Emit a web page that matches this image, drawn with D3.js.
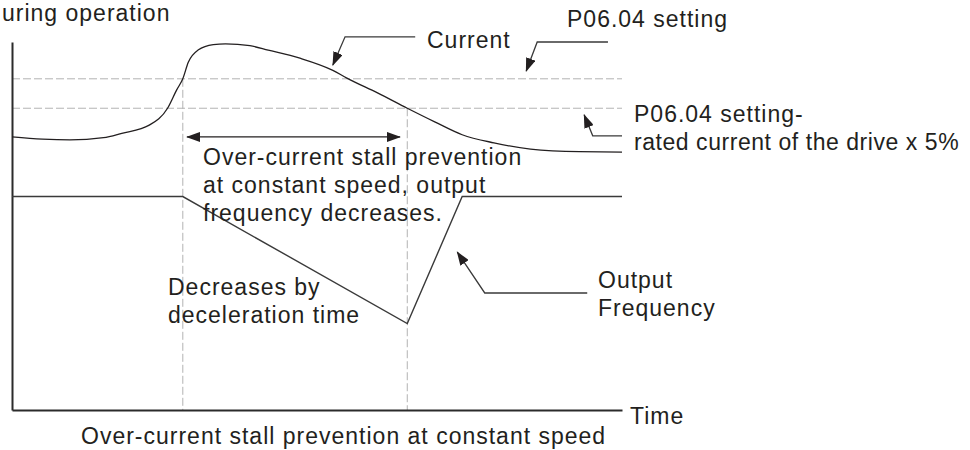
<!DOCTYPE html>
<html>
<head>
<meta charset="utf-8">
<script src="https://cdn.jsdelivr.net/npm/d3@7"></script>
<style>
  body { margin: 0; background: #fff; }
  svg text { font-family: "Liberation Sans", Arial, sans-serif; font-size: 23px; letter-spacing: 1px; fill: #231f20; }
</style>
</head>
<body>
<div id="chart"></div>
<script>
// time in s (0..10), level in % of full scale (0..100)
const currentPts = [
  [0, 74.2], [0.5, 73.6], [0.95, 73.4], [1.5, 74], [1.8, 75.2], [2.25, 77.4], [2.55, 82],
  [2.7, 87], [2.8, 90], [2.89, 94.5], [3.05, 97.8], [3.3, 99.3], [3.5, 99.5], [3.9, 99],
  [4.2, 97.8], [4.72, 95.6], [5.26, 92.3], [5.49, 90.2], [6.0, 86.1], [6.48, 82], [6.93, 78.3],
  [7.38, 74.8], [7.9, 72.6], [8.5, 70.9], [9.3, 70.2], [10, 70.1]
];
const freqPts = [[0, 58], [2.8, 58], [6.48, 23.5], [7.38, 58], [10, 58]];
const levels = [90, 82];            // P06.04 setting, setting - 5%
const markTimes = [[2.8, 90], [6.48, 82]];   // stall start / end
const spanArrow = {t0: 2.87, t1: 6.36, v: 74.2};

// leader lines: [start, corner, tip]
const leaders = [
  [[6.61, 101.4], [5.46, 101.4], [5.26, 93.75]],
  [[9.77, 100], [8.61, 100], [8.43, 92.1]],
  [[10, 74.5], [9.52, 74.5], [9.38, 80.2]],
  [[9.43, 31.8], [7.75, 31.8], [7.30, 42.9]]
];

const labels = [
  {text: "uring operation", x: 2, y: 21},
  {text: "Current", x: 427, y: 48},
  {text: "P06.04 setting", x: 567, y: 27},
  {text: "P06.04 setting-", x: 634, y: 122},
  {text: "rated current of the drive x 5%", x: 634, y: 150, ls: 0.55},
  {text: "Over-current stall prevention", x: 203, y: 165},
  {text: "at constant speed, output", x: 203, y: 193},
  {text: "frequency decreases.", x: 203, y: 221},
  {text: "Decreases by", x: 168, y: 295},
  {text: "deceleration time", x: 168, y: 323},
  {text: "Output", x: 598, y: 288},
  {text: "Frequency", x: 598, y: 316},
  {text: "Time", x: 630, y: 424},
  {text: "Over-current stall prevention at constant speed", x: 81, y: 444}
];

const W = 970, H = 450;
const x = d3.scaleLinear().domain([0, 10]).range([12, 622]);
const y = d3.scaleLinear().domain([0, 100]).range([410, 42]);

const svg = d3.select("#chart").append("svg")
    .attr("width", W).attr("height", H);

const defs = svg.append("defs");
defs.append("marker")
    .attr("id", "head")
    .attr("markerUnits", "userSpaceOnUse")
    .attr("viewBox", "0 0 14 10")
    .attr("refX", 13).attr("refY", 5)
    .attr("markerWidth", 14).attr("markerHeight", 10)
    .attr("orient", "auto-start-reverse")
  .append("path")
    .attr("d", "M0,0 L14,5 L0,10 Z")
    .attr("fill", "#231f20");

const ink = "#231f20";

// dashed guide lines
svg.selectAll(".level").data(levels).enter().append("line")
    .attr("x1", x(0)).attr("x2", x(10))
    .attr("y1", d => y(d)).attr("y2", d => y(d))
    .attr("stroke", "#b3b3b3").attr("stroke-width", 1)
    .attr("stroke-dasharray", "8,3");

svg.selectAll(".vmark").data(markTimes).enter().append("line")
    .attr("x1", d => x(d[0])).attr("x2", d => x(d[0]))
    .attr("y1", d => y(d[1])).attr("y2", y(0))
    .attr("stroke", "#b3b3b3").attr("stroke-width", 1)
    .attr("stroke-dasharray", "8,3");

// axes, no ticks
svg.append("g").attr("transform", `translate(0,${y(0)})`)
    .call(d3.axisBottom(x).ticks(0).tickSizeOuter(0))
    .call(g => g.select(".domain").attr("stroke", "#2b2b2b").attr("stroke-width", 2));
svg.append("g").attr("transform", `translate(${x(0)},0)`)
    .call(d3.axisLeft(y).ticks(0).tickSizeOuter(0))
    .call(g => g.select(".domain").attr("stroke", "#2b2b2b").attr("stroke-width", 2));

svg.append("path")
    .datum(currentPts)
    .attr("d", d3.line().x(d => x(d[0])).y(d => y(d[1])).curve(d3.curveMonotoneX))
    .attr("fill", "none").attr("stroke", ink).attr("stroke-width", 1.3);

svg.append("path")
    .datum(freqPts)
    .attr("d", d3.line().x(d => x(d[0])).y(d => y(d[1])))
    .attr("fill", "none").attr("stroke", "#3a3a3a").attr("stroke-width", 1.4);

// double arrow across the stall interval
svg.append("line")
    .attr("x1", x(spanArrow.t0)).attr("x2", x(spanArrow.t1))
    .attr("y1", y(spanArrow.v)).attr("y2", y(spanArrow.v))
    .attr("stroke", ink).attr("stroke-width", 1.3)
    .attr("marker-start", "url(#head)").attr("marker-end", "url(#head)");

// leader arrows
svg.selectAll(".leader").data(leaders).enter().append("path")
    .attr("d", d3.line().x(d => x(d[0])).y(d => y(d[1])))
    .attr("fill", "none").attr("stroke", "#3a3a3a").attr("stroke-width", 1.3)
    .attr("marker-end", "url(#head)");

svg.selectAll(".lbl").data(labels).enter().append("text")
    .attr("x", d => d.x).attr("y", d => d.y)
    .style("letter-spacing", d => d.ls != null ? d.ls + "px" : null)
    .text(d => d.text);
</script>
</body>
</html>
